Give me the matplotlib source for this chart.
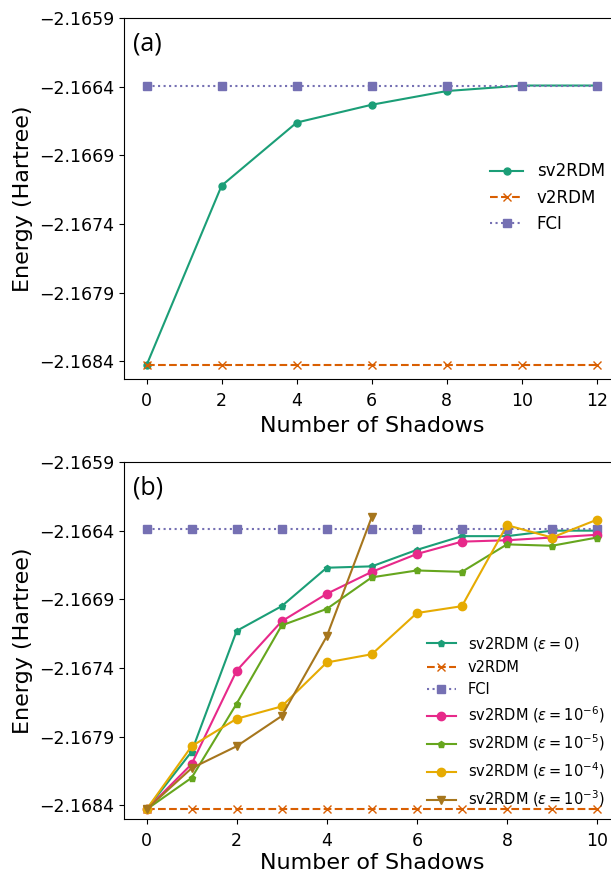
import numpy as np
import matplotlib
matplotlib.use("Agg")
import matplotlib.pyplot as plt

# colours (Dark2)
colors = ['#1b9e77', '#d95f02', '#7570b3', '#e7298a', '#66a61e', '#e6ab02', '#a6761d']

# panel (a)
shadows_a = [0, 2, 4, 6, 8, 10, 12]
sv2rdm_a = [-2.16843, -2.16712, -2.16666, -2.16653, -2.16643, -2.16639, -2.16639]
v2rdm_a = [-2.16843] * 7
fci_a = [-2.16639] * 7

# panel (b)
shadows_b = [0, 1, 2, 3, 4, 5, 6, 7, 8, 9, 10]
sv2rdm_eps0 = [-2.16843, -2.16801, -2.16713, -2.16695, -2.16667, -2.16666,
               -2.16654, -2.16644, -2.16644, -2.16640, -2.16640]
v2rdm_b = [-2.16843] * 11
fci_b = [-2.16639] * 11
sv2rdm_eps6 = [-2.16843, -2.16810, -2.16742, -2.16706, -2.16686, -2.16670,
               -2.16657, -2.16648, -2.16647, -2.16645, -2.16643]
sv2rdm_eps5 = [-2.16843, -2.16820, -2.16766, -2.16709, -2.16697, -2.16674,
               -2.16669, -2.16670, -2.16650, -2.16651, -2.16645]
sv2rdm_eps4 = [-2.16843, -2.16797, -2.16777, -2.16768, -2.16736, -2.16730,
               -2.16700, -2.16695, -2.16636, -2.16645, -2.16632]
shadows_eps3 = [0, 1, 2, 3, 4, 5]
sv2rdm_eps3 = [-2.16843, -2.16813, -2.16797, -2.16775, -2.16717, -2.16630]

yticks = [-2.1684, -2.1679, -2.1674, -2.1669, -2.1664, -2.1659]
ytick_labels = [f'{v:.4f}'.replace('-', '\u2212') for v in yticks]

fig = plt.figure(figsize=(6.11, 8.75), dpi=100)

# ---- (a)
ax1 = fig.add_axes([0.203, 0.567, 0.811, 0.412])
ax1.plot(shadows_a, sv2rdm_a, '-o', color=colors[0], lw=1.5, ms=5, label='sv2RDM')
ax1.plot(shadows_a, v2rdm_a, '--x', color=colors[1], lw=1.5, ms=6, label='v2RDM')
ax1.plot(shadows_a, fci_a, ':s', color=colors[2], lw=1.5, ms=6, label='FCI')
ax1.set_xlim(-0.6, 12.6)
ax1.set_ylim(-2.16853, -2.1659)
ax1.set_xticks(range(0, 13, 2))
ax1.set_yticks(yticks)
ax1.set_yticklabels(ytick_labels)
ax1.tick_params(labelsize=12.5)
ax1.tick_params(axis='x', pad=6)
ax1.set_xlabel('Number of Shadows', fontsize=16, labelpad=4)
ax1.set_ylabel('Energy (Hartree)', fontsize=16)
ax1.text(0.018, 0.93, '(a)', transform=ax1.transAxes, fontsize=18,
         family='Open Sans', va='center', ha='left')
ax1.legend(loc='center left', bbox_to_anchor=(0.791, 0.774),
           bbox_transform=fig.transFigure, borderaxespad=0,
           frameon=False, fontsize=12)

# ---- (b)
ax2 = fig.add_axes([0.203, 0.064, 0.811, 0.408])
ax2.plot(shadows_b, sv2rdm_eps0, '-p', color=colors[0], lw=1.5, ms=5,
         label=r'sv2RDM ($\varepsilon=0$)')
ax2.plot(shadows_b, v2rdm_b, '--x', color=colors[1], lw=1.5, ms=6, label='v2RDM')
ax2.plot(shadows_b, fci_b, ':s', color=colors[2], lw=1.5, ms=6, label='FCI')
ax2.plot(shadows_b, sv2rdm_eps6, '-o', color=colors[3], lw=1.5, ms=6,
         label=r'sv2RDM ($\varepsilon=10^{-6}$)')
ax2.plot(shadows_b, sv2rdm_eps5, '-p', color=colors[4], lw=1.5, ms=5,
         label=r'sv2RDM ($\varepsilon=10^{-5}$)')
ax2.plot(shadows_b, sv2rdm_eps4, '-o', color=colors[5], lw=1.5, ms=6,
         label=r'sv2RDM ($\varepsilon=10^{-4}$)')
ax2.plot(shadows_eps3, sv2rdm_eps3, '-v', color=colors[6], lw=1.5, ms=6,
         label=r'sv2RDM ($\varepsilon=10^{-3}$)')
ax2.set_xlim(-0.5, 10.5)
ax2.set_ylim(-2.1685, -2.1659)
ax2.set_xticks(range(0, 11, 2))
ax2.set_yticks(yticks)
ax2.set_yticklabels(ytick_labels)
ax2.tick_params(labelsize=12.5)
ax2.tick_params(axis='x', pad=6)
ax2.set_xlabel('Number of Shadows', fontsize=16, labelpad=2)
ax2.set_ylabel('Energy (Hartree)', fontsize=16)
ax2.text(0.018, 0.927, '(b)', transform=ax2.transAxes, fontsize=18,
         family='Open Sans', va='center', ha='left')
ax2.legend(loc='center left', bbox_to_anchor=(0.689, 0.175),
           bbox_transform=fig.transFigure, borderaxespad=0,
           frameon=False, fontsize=10.5)

fig.savefig('out.png', dpi=100)
